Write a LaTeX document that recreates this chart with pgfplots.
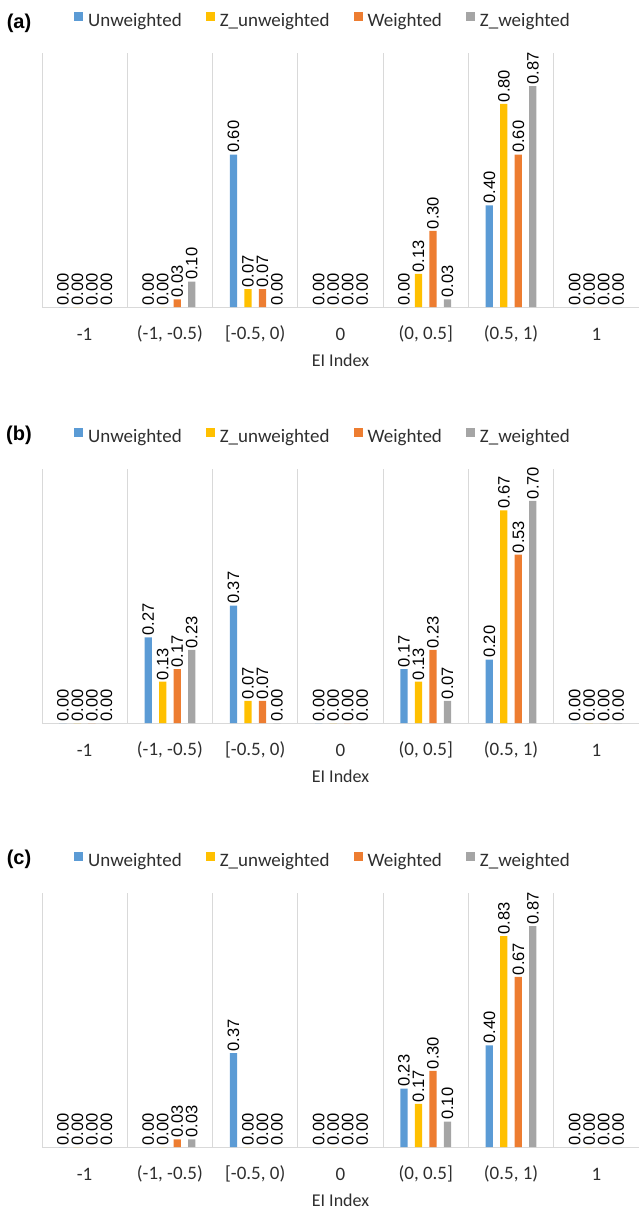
\documentclass[border=0pt]{standalone}
\usepackage{pgfplots}
\pgfplotsset{compat=1.18}
\usepackage{fontspec}
\setmainfont{Carlito}
\newfontfamily\labfont{Liberation Sans}
\definecolor{cUnw}{HTML}{5B9BD5}
\definecolor{cZunw}{HTML}{FFC000}
\definecolor{cW}{HTML}{ED7D31}
\definecolor{cZw}{HTML}{A5A5A5}
\definecolor{gridgray}{HTML}{D9D9D9}
\definecolor{txtgray}{HTML}{2E2E2E}

\pgfplotsset{
  panel/.style={
    scale only axis, width=597pt, height=254pt,
    xmin=-0.5, xmax=6.5, ymin=0,
    clip=false,
    axis x line*=bottom, axis y line=none,
    x axis line style={-, draw=gridgray, line width=0.9pt},
    xtick={0,1,2,3,4,5,6},
    xticklabels={-1,{(-1, -0.5)},{[-0.5, 0)},0,{(0, 0.5]},{(0.5, 1)},1},
    major tick length=0pt, minor tick length=0pt,
    minor xtick={-0.5,0.5,1.5,2.5,3.5,4.5,5.5,6.5},
    xminorgrids=true, minor grid style={draw=gridgray, line width=0.9pt},
    ytick=\empty,
    xticklabel style={font=\fontsize{19}{19}\selectfont, text=txtgray, anchor=center, yshift=-27pt},
    xlabel={EI Index},
    xlabel style={font=\fontsize{18}{18}\selectfont, text=txtgray, at={(axis description cs:0.5,-0.209)}, anchor=center},
    ylabel={Frequency (\%)},
    ylabel style={font=\fontsize{16}{16}\selectfont, text=txtgray, at={(axis description cs:-0.0184,0.53)}, anchor=center},
    ybar=7.2pt, bar width=7.3pt,
    nodes near coords={\pgfmathprintnumber[fixed,fixed zerofill,precision=2,assume math mode=true]{\pgfplotspointmeta}},
    every node near coord/.append style={rotate=90, anchor=west, font=\labfont\fontsize{16.5}{16.5}\selectfont, inner sep=1.5pt, text=black},
    legend columns=4,
    legend image code/.code={\fill[##1] (0pt,-1pt) rectangle (9pt,8pt);},
    legend style={draw=none, fill=none, inner sep=0pt, at={(axis description cs:0.0536,1.13)}, anchor=west,
      font=\fontsize{19}{19}\selectfont, text=txtgray,
      nodes={inner sep=0pt},
      /tikz/every odd column/.append style={column sep=5pt},
      /tikz/every even column/.append style={column sep=24pt}},
  },
  sU/.style={fill=cUnw, draw=none},
  sZU/.style={fill=cZunw, draw=none},
  sW/.style={fill=cW, draw=none},
  sZW/.style={fill=cZw, draw=none},
}

\begin{document}
\begin{tikzpicture}
\path[use as bounding box] (0,0) rectangle (639pt,-1209pt);

% ---------- (a) ----------
\begin{axis}[panel, at={(42pt,-307pt)}, anchor=south west, ymax=1]
\addplot[sU]  coordinates {(0,0) (1,0) (2,0.60) (3,0) (4,0) (5,0.40) (6,0)};
\addplot[sZU] coordinates {(0,0) (1,0) (2,0.07) (3,0) (4,0.13) (5,0.80) (6,0)};
\addplot[sW]  coordinates {(0,0) (1,0.03) (2,0.07) (3,0) (4,0.30) (5,0.60) (6,0)};
\addplot[sZW] coordinates {(0,0) (1,0.10) (2,0) (3,0) (4,0.03) (5,0.87) (6,0)};
\legend{Unweighted,Z\_unweighted,Weighted,Z\_weighted}
\end{axis}
\node[font=\labfont\bfseries\fontsize{20}{20}\selectfont] at (19pt,-23pt) {(a)};

% ---------- (b) ----------
\begin{axis}[panel, at={(42pt,-723pt)}, anchor=south west, ymax=0.8]
\addplot[sU]  coordinates {(0,0) (1,0.27) (2,0.37) (3,0) (4,0.17) (5,0.20) (6,0)};
\addplot[sZU] coordinates {(0,0) (1,0.13) (2,0.07) (3,0) (4,0.13) (5,0.67) (6,0)};
\addplot[sW]  coordinates {(0,0) (1,0.17) (2,0.07) (3,0) (4,0.23) (5,0.53) (6,0)};
\addplot[sZW] coordinates {(0,0) (1,0.23) (2,0) (3,0) (4,0.07) (5,0.70) (6,0)};
\legend{Unweighted,Z\_unweighted,Weighted,Z\_weighted}
\end{axis}
\node[font=\labfont\bfseries\fontsize{20}{20}\selectfont] at (19pt,-435pt) {(b)};

% ---------- (c) ----------
\begin{axis}[panel, at={(42pt,-1147pt)}, anchor=south west, ymax=1]
\addplot[sU]  coordinates {(0,0) (1,0) (2,0.37) (3,0) (4,0.23) (5,0.40) (6,0)};
\addplot[sZU] coordinates {(0,0) (1,0) (2,0) (3,0) (4,0.17) (5,0.83) (6,0)};
\addplot[sW]  coordinates {(0,0) (1,0.03) (2,0) (3,0) (4,0.30) (5,0.67) (6,0)};
\addplot[sZW] coordinates {(0,0) (1,0.03) (2,0) (3,0) (4,0.10) (5,0.87) (6,0)};
\legend{Unweighted,Z\_unweighted,Weighted,Z\_weighted}
\end{axis}
\node[font=\labfont\bfseries\fontsize{20}{20}\selectfont] at (19pt,-859pt) {(c)};
\end{tikzpicture}
\end{document}
